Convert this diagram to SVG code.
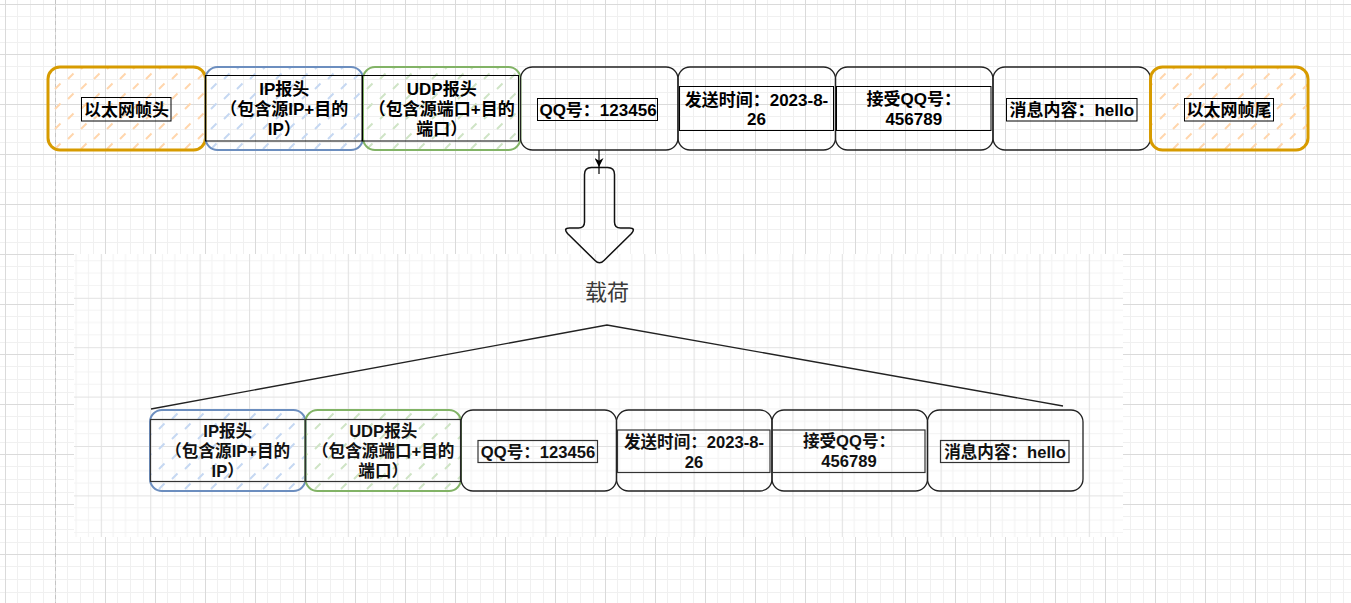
<svg xmlns="http://www.w3.org/2000/svg" width="1351" height="603" viewBox="0 0 1351 603">
<style>
.lbl{font-family:"Liberation Sans","Noto Sans CJK SC",sans-serif;font-weight:bold;font-size:17px;fill:#000;text-anchor:middle}
.lbl2{font-family:"Liberation Sans","Noto Sans CJK SC",sans-serif;font-weight:bold;font-size:16.6px;fill:#111;text-anchor:middle}
.box{fill:none;stroke:#000;stroke-width:1}
.box2{fill:none;stroke:#333;stroke-width:1.2}
.blk{stroke:#222;stroke-width:1.3}
.org{fill:url(#hO);stroke:#d79b00;stroke-width:3}
.blu{fill:url(#hB);stroke:#6c8ebf;stroke-width:2}
.grn{fill:url(#hG);stroke:#82b366;stroke-width:2}
.wht{fill:none}
.ln{fill:none;stroke:#222;stroke-width:1.3}
</style>
<defs>
<pattern id="gOut" patternUnits="userSpaceOnUse" x="5" y="4" width="50" height="50">
<path d="M12.5 0V50M25.5 0V50M38.5 0V50M0 12.5H50M0 25.5H50M0 38.5H50" stroke="#f0f0f0" stroke-width="1"/>
<path d="M0.5 0V50M0 0.5H50" stroke="#dadada" stroke-width="1"/>
</pattern>
<pattern id="gIn" patternUnits="userSpaceOnUse" x="150.2" y="297.8" width="49.4" height="49.4">
<path d="M12.35 0V49.4M24.7 0V49.4M37.05 0V49.4M0 12.35H49.4M0 24.7H49.4M0 37.05H49.4" stroke="#f3f3f3" stroke-width="1.2"/>
<path d="M0.5 0V49.4M0 0.5H49.4" stroke="#e2e2e2" stroke-width="1.2"/>
</pattern>
<pattern id="hO" patternUnits="userSpaceOnUse" width="26" height="20">
<path d="M3 9L8.5 3.5M16 19L21.5 13.5" stroke="#ffd6ad" stroke-width="2"/>
</pattern>
<pattern id="hB" patternUnits="userSpaceOnUse" width="26" height="20">
<path d="M3 9L8.5 3.5M16 19L21.5 13.5" stroke="#c6d8f2" stroke-width="2"/>
</pattern>
<pattern id="hG" patternUnits="userSpaceOnUse" width="26" height="20">
<path d="M3 9L8.5 3.5M16 19L21.5 13.5" stroke="#cfe4c6" stroke-width="2"/>
</pattern>
<marker id="arr" markerUnits="userSpaceOnUse" viewBox="0 0 10 10" refX="10" refY="5" markerWidth="9" markerHeight="9" orient="auto">
<path d="M0 0L10 5L0 10L3 5Z" fill="#000"/>
</marker>
</defs>

<g id="background">
<rect x="0" y="0" width="1351" height="603" fill="#fff"/>
<rect x="0" y="0" width="1351" height="603" fill="url(#gOut)"/>
<line x1="55.5" y1="0" x2="55.5" y2="603" stroke="#c4c4c4" stroke-width="1" stroke-dasharray="4 3"/>
</g>

<g id="top-row">
<g id="n-eth-head"><rect class="org" x="48" y="67" width="157.5" height="83" rx="12"/><rect class="box" x="81.5" y="97.5" width="89.5" height="23.5"/><text class="lbl" x="126.5" y="115.5">以太网帧头</text></g>
<g id="n-ip"><rect class="blu" x="205.5" y="67" width="157.5" height="83" rx="12"/><rect class="box" x="205.5" y="75.5" width="156.5" height="65.5"/><text class="lbl" x="284.25" y="94.5">IP报头</text><text class="lbl" x="284.25" y="114.5">（包含源IP+目的</text><text class="lbl" x="284.25" y="134.5">IP）</text></g>
<g id="n-udp"><rect class="grn" x="363" y="67" width="157.5" height="83" rx="12"/><rect class="box" x="362.5" y="75.5" width="156" height="65.5"/><text class="lbl" x="441.75" y="94.5">UDP报头</text><text class="lbl" x="441.75" y="114.5">（包含源端口+目的</text><text class="lbl" x="441.75" y="134.5">端口）</text></g>
<g id="n-qq"><rect class="wht blk" x="520.5" y="67" width="157.5" height="83" rx="12"/><rect class="box" x="537.5" y="98.5" width="120" height="22"/><text class="lbl" x="598" y="115.5">QQ号：123456</text></g>
<g id="n-time"><rect class="wht blk" x="678" y="67" width="157.5" height="83" rx="12"/><rect class="box" x="679.5" y="86.5" width="154" height="44"/><text class="lbl" x="756.5" y="105.5">发送时间：2023-8-</text><text class="lbl" x="756.5" y="125">26</text></g>
<g id="n-recv"><rect class="wht blk" x="835.5" y="67" width="157.5" height="83" rx="12"/><rect class="box" x="836.5" y="86.5" width="154.5" height="44"/><text class="lbl" x="913.75" y="104.5">接受QQ号：</text><text class="lbl" x="913.75" y="125">456789</text></g>
<g id="n-msg"><rect class="wht blk" x="993" y="67" width="157.5" height="83" rx="12"/><rect class="box" x="1006.5" y="98.5" width="130.5" height="22.5"/><text class="lbl" x="1071.75" y="115.5">消息内容：hello</text></g>
<g id="n-eth-tail"><rect class="org" x="1150.5" y="67" width="157.5" height="83" rx="12"/><rect class="box" x="1184.5" y="98.5" width="89" height="22.5"/><text class="lbl" x="1229" y="115.5">以太网帧尾</text></g>
</g>

<g id="payload-image">
<rect x="74" y="254" width="1049" height="283" fill="#fff"/>
<rect x="74" y="254" width="1049" height="283" fill="url(#gIn)"/>
<text x="607" y="300" font-family="'Noto Sans CJK SC',sans-serif" font-size="22" fill="#3a3a3a" text-anchor="middle">载荷</text>
<path class="ln" d="M151 409L607 325L1063 406"/>
<g id="b-ip"><rect class="blu" x="150" y="410" width="155.5" height="81" rx="12"/><rect class="box2" x="150.5" y="419.5" width="154.5" height="62"/><text class="lbl2" x="227.75" y="436.5">IP报头</text><text class="lbl2" x="227.75" y="456.5">（包含源IP+目的</text><text class="lbl2" x="227.75" y="476.5">IP）</text></g>
<g id="b-udp"><rect class="grn" x="305.5" y="410" width="155.5" height="81" rx="12"/><rect class="box2" x="305.5" y="419.5" width="155" height="62"/><text class="lbl2" x="383.25" y="436.5">UDP报头</text><text class="lbl2" x="383.25" y="456.5">（包含源端口+目的</text><text class="lbl2" x="383.25" y="476.5">端口）</text></g>
<g id="b-qq"><rect class="wht blk" x="461" y="410" width="155.5" height="81" rx="12"/><rect class="box2" x="478" y="440.5" width="119.5" height="22"/><text class="lbl2" x="538" y="457.5">QQ号：123456</text></g>
<g id="b-time"><rect class="wht blk" x="616.5" y="410" width="155.5" height="81" rx="12"/><rect class="box2" x="617.5" y="430" width="152.5" height="42.5"/><text class="lbl2" x="694" y="447.5">发送时间：2023-8-</text><text class="lbl2" x="694" y="467.5">26</text></g>
<g id="b-recv"><rect class="wht blk" x="772" y="410" width="155.5" height="81" rx="12"/><rect class="box2" x="772" y="430" width="153" height="42.5"/><text class="lbl2" x="849" y="446.5">接受QQ号：</text><text class="lbl2" x="849" y="466.5">456789</text></g>
<g id="b-msg"><rect class="wht blk" x="927.5" y="410" width="155.5" height="81" rx="12"/><rect class="box2" x="940.5" y="440.5" width="128.5" height="22"/><text class="lbl2" x="1005" y="457.5">消息内容：hello</text></g>
</g>

<g id="block-arrow">
<path d="M591.5 167.5L607.5 167.5Q614.5 167.5 614.5 174.5L614.5 222Q614.5 228 620.5 228L629.5 228Q636 228 631.5 233.5L604 260.5Q599.5 265 595 260.5L567.5 233.5Q563 228 569.5 228L578.5 228Q584.5 228 584.5 222L584.5 174.5Q584.5 167.5 591.5 167.5Z" fill="none" stroke="#111" stroke-width="1.5" stroke-linejoin="round"/>
</g>

<g id="connectors">
<path d="M599 150V167V174" fill="none" stroke="#000" stroke-width="1.2" marker-mid="url(#arr)"/>
</g>
</svg>
